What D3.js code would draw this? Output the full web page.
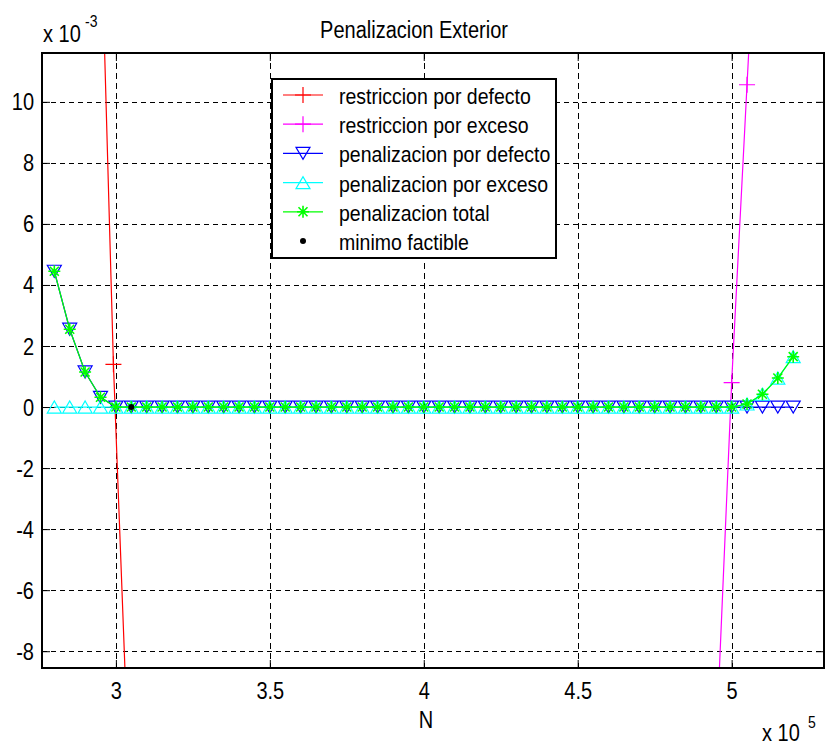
<!DOCTYPE html>
<html>
<head>
<meta charset="utf-8">
<script src="https://cdn.jsdelivr.net/npm/d3@7"></script>
<style>
  body { margin: 0; background: #fff; }
</style>
</head>
<body>
<div id="chart-area"></div>
<script>
// N in units of 1e5, penalties / restrictions in units of 1e-3
var nValues = [2.80, 2.85, 2.90, 2.95,
  3.00, 3.05, 3.10, 3.15, 3.20, 3.25, 3.30, 3.35, 3.40, 3.45,
  3.50, 3.55, 3.60, 3.65, 3.70, 3.75, 3.80, 3.85, 3.90, 3.95,
  4.00, 4.05, 4.10, 4.15, 4.20, 4.25, 4.30, 4.35, 4.40, 4.45,
  4.50, 4.55, 4.60, 4.65, 4.70, 4.75, 4.80, 4.85, 4.90, 4.95,
  5.00, 5.05, 5.10, 5.15, 5.20];

var penDefecto = [4.45, 2.55, 1.15, 0.32,
  0, 0, 0, 0, 0, 0, 0, 0, 0, 0,
  0, 0, 0, 0, 0, 0, 0, 0, 0, 0,
  0, 0, 0, 0, 0, 0, 0, 0, 0, 0,
  0, 0, 0, 0, 0, 0, 0, 0, 0, 0,
  0, 0, 0, 0, 0];

var penExceso = [0, 0, 0, 0,
  0, 0, 0, 0, 0, 0, 0, 0, 0, 0,
  0, 0, 0, 0, 0, 0, 0, 0, 0, 0,
  0, 0, 0, 0, 0, 0, 0, 0, 0, 0,
  0, 0, 0, 0, 0, 0, 0, 0, 0, 0,
  0, 0.1, 0.42, 0.95, 1.65];

var penTotal = [4.45, 2.55, 1.15, 0.32,
  0, 0, 0, 0, 0, 0, 0, 0, 0, 0,
  0, 0, 0, 0, 0, 0, 0, 0, 0, 0,
  0, 0, 0, 0, 0, 0, 0, 0, 0, 0,
  0, 0, 0, 0, 0, 0, 0, 0, 0, 0,
  0, 0.1, 0.42, 0.95, 1.65];

var restDefN = [2.94, 2.992, 3.04];
var restDefV = [20.0, 1.4, -11.4];
var restExcN = [4.95, 5.00, 5.05, 5.10];
var restExcV = [-11.0, 0.8, 10.56, 20.3];
var minimoN = [3.05];
var minimoV = [0];

var xTicks = [3, 3.5, 4, 4.5, 5];
var yTicks = [-8, -6, -4, -2, 0, 2, 4, 6, 8, 10];

var legendLabels = ["restriccion por defecto", "restriccion por exceso",
  "penalizacion por defecto", "penalizacion por exceso",
  "penalizacion total", "minimo factible"];

var FONT = "'Liberation Sans', Arial, sans-serif";
var STRETCH = " scale(1,1.15)";

var svg = d3.select("#chart-area")
  .append("svg")
  .attr("width", 826)
  .attr("height", 745);

var margin = { top: 53, left: 42 };
var width = 782;
var height = 615;

var x = d3.scaleLinear().domain([2.76, 5.3]).range([0, width]);
var y = d3.scaleLinear().domain([-8.55, 11.6]).range([height, 0]);

var g = svg.append("g")
  .attr("transform", "translate(" + margin.left + "," + margin.top + ")");

g.append("clipPath").attr("id", "clip")
  .append("rect").attr("width", width).attr("height", height);

// grid
g.selectAll(".vgrid").data(xTicks).enter().append("line")
  .attr("x1", function(d) { return Math.round(x(d)) + 0.5; })
  .attr("x2", function(d) { return Math.round(x(d)) + 0.5; })
  .attr("y1", 0).attr("y2", height)
  .attr("stroke", "#000").attr("stroke-dasharray", "6,4");

g.selectAll(".hgrid").data(yTicks).enter().append("line")
  .attr("y1", function(d) { return Math.round(y(d)) + 0.5; })
  .attr("y2", function(d) { return Math.round(y(d)) + 0.5; })
  .attr("x1", 0).attr("x2", width)
  .attr("stroke", "#000").attr("stroke-dasharray", "5,4");

// axes with inward ticks on all four sides
function styleAxis(sel) {
  sel.select(".domain").remove();
  sel.selectAll("line").attr("stroke", "#000").attr("stroke-width", 1);
  sel.attr("font-family", FONT).attr("font-size", 20);
}

var plain = function(d) { return String(d); };

var xAxis = g.append("g").attr("transform", "translate(0," + height + ")")
  .call(d3.axisBottom(x).tickValues(xTicks).tickSize(-8).tickSizeOuter(0).tickFormat(plain));
styleAxis(xAxis);
xAxis.selectAll("text").attr("y", 0).attr("dy", 0)
  .attr("transform", "translate(0,31)" + STRETCH);

g.append("g").call(d3.axisTop(x).tickValues(xTicks).tickSize(-8).tickSizeOuter(0).tickFormat(""))
  .call(styleAxis);

var yAxis = g.append("g")
  .call(d3.axisLeft(y).tickValues(yTicks).tickSize(-8).tickSizeOuter(0).tickFormat(plain));
styleAxis(yAxis);
yAxis.selectAll("text").attr("x", 0).attr("dy", 0)
  .attr("transform", "translate(-8,8)" + STRETCH);

g.append("g").attr("transform", "translate(" + width + ",0)")
  .call(d3.axisRight(y).tickValues(yTicks).tickSize(-8).tickSizeOuter(0).tickFormat(""))
  .call(styleAxis);

// markers
var markerPaths = {
  plus: "M-8,0H8M0,-8V8",
  tdown: "M-7,-6H7L0,6Z",
  tup: "M-7,6H7L0,-6Z",
  star: "M-6,0H6M0,-6V6M-4.5,-4.5L4.5,4.5M-4.5,4.5L4.5,-4.5"
};
var markerWidth = { plus: 1.2, tdown: 1.2, tup: 1.2, star: 1.6 };

function drawMarker(sel, type, color) {
  if (type === "dot") {
    sel.append("circle").attr("r", 3).attr("fill", color);
  } else {
    sel.append("path").attr("d", markerPaths[type])
      .attr("fill", "none").attr("stroke", color)
      .attr("stroke-width", markerWidth[type]);
  }
}

var line = d3.line()
  .x(function(d) { return x(d[0]); })
  .y(function(d) { return y(d[1]); });

var series = [
  { pts: d3.zip(restDefN, restDefV), color: "#ff0000", marker: "plus", line: true },
  { pts: d3.zip(restExcN, restExcV), color: "#ff00ff", marker: "plus", line: true },
  { pts: d3.zip(nValues, penDefecto), color: "#0000ff", marker: "tdown", line: true },
  { pts: d3.zip(nValues, penExceso), color: "#00ffff", marker: "tup", line: true },
  { pts: d3.zip(nValues, penTotal), color: "#00ff00", marker: "star", line: true },
  { pts: d3.zip(minimoN, minimoV), color: "#000000", marker: "dot", line: false }
];

var plot = g.append("g").attr("clip-path", "url(#clip)");

series.forEach(function(s) {
  var sg = plot.append("g");
  if (s.line) {
    sg.append("path").datum(s.pts)
      .attr("d", line)
      .attr("fill", "none").attr("stroke", s.color).attr("stroke-width", 1.2);
  }
  sg.selectAll(null).data(s.pts).enter().append("g")
    .attr("transform", function(d) { return "translate(" + x(d[0]) + "," + y(d[1]) + ")"; })
    .each(function() { drawMarker(d3.select(this), s.marker, s.color); });
});

// frame
g.append("rect").attr("width", width).attr("height", height)
  .attr("fill", "none").attr("stroke", "#000").attr("stroke-width", 2);

// texts
function label(px, py, str, anchor, size) {
  return svg.append("text")
    .attr("transform", "translate(" + px + "," + py + ")" + STRETCH)
    .attr("text-anchor", anchor)
    .attr("font-family", FONT)
    .attr("font-size", size)
    .text(str);
}

label(414, 38, "Penalizacion Exterior", "middle", 20);
label(426, 728, "N", "middle", 20);
label(43, 42, "x 10", "start", 20);
label(85, 27, "-3", "start", 14);
label(762, 741, "x 10", "start", 20);
label(808, 728, "5", "start", 14);

// legend
var legend = svg.append("g");
legend.append("rect")
  .attr("x", 272).attr("y", 79).attr("width", 284).attr("height", 179)
  .attr("fill", "#fff").attr("stroke", "#000").attr("stroke-width", 2);

series.forEach(function(s, i) {
  var ly = 95 + i * 29.2;
  var row = legend.append("g");
  if (s.line) {
    row.append("line").attr("x1", 283).attr("x2", 323)
      .attr("y1", ly).attr("y2", ly)
      .attr("stroke", s.color).attr("stroke-width", 1.2);
  }
  drawMarker(row.append("g").attr("transform", "translate(303," + ly + ")"), s.marker, s.color);
  row.append("text")
    .attr("transform", "translate(339," + (ly + 9) + ")" + STRETCH)
    .attr("font-family", FONT).attr("font-size", 19.5)
    .text(legendLabels[i]);
});
</script>
</body>
</html>
